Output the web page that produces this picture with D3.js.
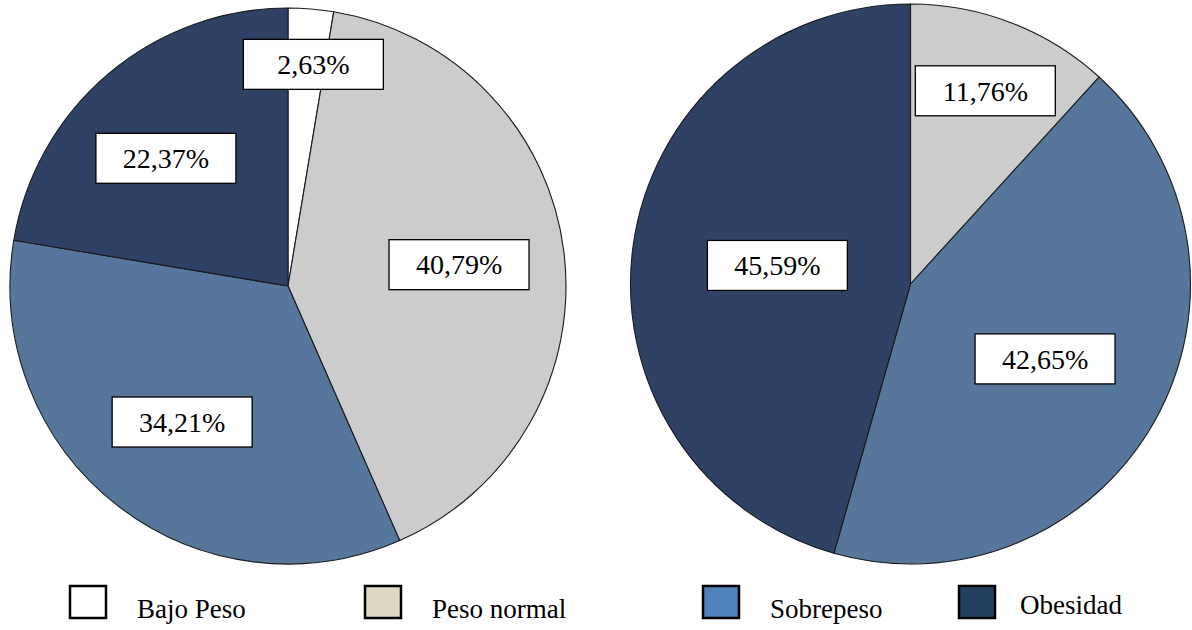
<!DOCTYPE html>
<html>
<head>
<meta charset="utf-8">
<script src="https://cdn.jsdelivr.net/npm/d3@7/dist/d3.min.js"></script>
<style>
  html, body { margin: 0; padding: 0; background: #ffffff; }
  svg { display: block; }
  .serif { font-family: 'Liberation Serif'; }
</style>
</head>
<body>
<svg id="chart" width="1192" height="630" font-family="Liberation Serif"></svg>
<script>
// Weight categories, in drawing order (clockwise from 12 o'clock)
const categories = ["Bajo Peso", "Peso normal", "Sobrepeso", "Obesidad"];

// Percentages for each group
const groupA = [2.63, 40.79, 34.21, 22.37];
const groupB = [0, 11.76, 42.65, 45.59];

// Slice fills and legend swatch fills
const sliceColors  = ["#ffffff", "#cccccc", "#56769b", "#2f4265"];
const legendColors = ["#ffffff", "#ddd9c3", "#4f81bd", "#243f60"];

// Layout of the two pies; labels sit on a ring (fraction of radius) with a small nudge
const pies = [
  { values: groupA, cx: 288,   cy: 286, r: 278,
    labelFrac: [0.80, 0.62, 0.62, 0.635], labelDx: [7, 0, 0, -8], labelDy: [0, 0, 0, 7] },
  { values: groupB, cx: 910.5, cy: 284, r: 280,
    labelFrac: [0.6, 0.74, 0.55, 0.48], labelDx: [0, 0, 0, 0], labelDy: [0, 0, 0, 0] }
];

// Legend swatch positions
const legendPos = [70, 365, 703, 959];

const locale = d3.formatLocale({ decimal: ",", thousands: ".", grouping: [3], currency: ["", ""] });
const fmt = v => locale.format(".2f")(v) + "%";

const svg = d3.select("#chart");
const pie = d3.pie().sort(null).value(d => d.value);
const color = d3.scaleOrdinal().domain(categories).range(sliceColors);
const legendColor = d3.scaleOrdinal().domain(categories).range(legendColors);

const boxW = 140, boxH = 50;

pies.forEach(p => {
  const data = categories.map((c, i) => ({ cat: c, value: p.values[i], idx: i }));
  const arcs = pie(data).filter(a => a.data.value > 0);
  const arc = d3.arc().innerRadius(0).outerRadius(p.r);
  const g = svg.append("g").attr("transform", `translate(${p.cx},${p.cy})`);

  g.selectAll("path.slice")
    .data(arcs)
    .join("path")
    .attr("class", "slice")
    .attr("d", arc)
    .attr("fill", d => color(d.data.cat))
    .attr("stroke", "#1a1a1a")
    .attr("stroke-width", 1.1)
    .attr("stroke-linejoin", "round");

  const labels = g.selectAll("g.label")
    .data(arcs)
    .join("g")
    .attr("class", "label")
    .attr("transform", d => {
      const i = d.data.idx;
      const lr = p.r * p.labelFrac[i];
      const c = d3.arc().innerRadius(lr).outerRadius(lr).centroid(d);
      return `translate(${c[0] + p.labelDx[i]},${c[1] + p.labelDy[i]})`;
    });

  labels.append("rect")
    .attr("x", -boxW / 2).attr("y", -boxH / 2)
    .attr("width", boxW).attr("height", boxH)
    .attr("fill", "#ffffff")
    .attr("stroke", "#000")
    .attr("stroke-width", 1.3);

  labels.append("text")
    .attr("class", "serif")
    .attr("text-anchor", "middle")
    .attr("dy", "0.35em")
    .attr("font-size", 28)
    .attr("fill", "#000")
    .text(d => fmt(d.data.value));
});

// Legend along the bottom
const lg = svg.append("g").selectAll("g")
  .data(categories)
  .join("g")
  .attr("transform", (d, i) => `translate(${legendPos[i]},586)`);

lg.append("rect")
  .attr("width", 36).attr("height", 32)
  .attr("fill", d => legendColor(d))
  .attr("stroke", "#000")
  .attr("stroke-width", 2.5);

lg.append("text")
  .attr("class", "serif")
  .attr("x", (d, i) => i === 3 ? 61 : 67)
  .attr("y", (d, i) => i === 3 ? 28 : 32)
  .attr("font-size", 27)
  .attr("fill", "#000")
  .text(d => d);
</script>
</body>
</html>
